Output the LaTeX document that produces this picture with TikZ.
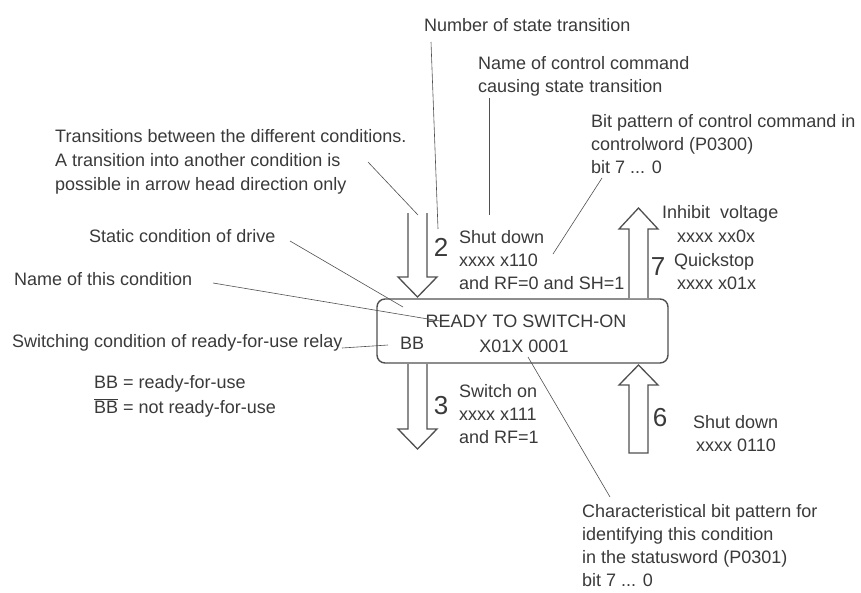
\documentclass[tikz,border=0pt]{standalone}
\usepackage{fontspec}
\setmainfont{Liberation Sans}
\definecolor{txt}{HTML}{3A3A3A}
\definecolor{ln}{HTML}{505050}
\newcommand{\mylines}[1]{\begin{tabular}[t]{@{}l@{}}#1\end{tabular}}
\begin{document}
\begin{tikzpicture}[x=1pt,y=-1pt,
  lbl/.style={anchor=base west,inner sep=0pt,text=txt,font=\fontsize{18}{23}\selectfont},
  num/.style={anchor=center,inner sep=0pt,text=txt,font=\fontsize{26}{30}\selectfont},
  lead/.style={draw=ln,line width=0.6pt},
  blk/.style={draw=ln,line width=1.3pt,line join=miter,fill=white},
  statebox/.style={draw=ln,line width=1.4pt,rounded corners=8pt}]
\useasboundingbox[fill=white] (0,0) rectangle (861,592);

% state box
\draw[statebox] (377,299) rectangle (668,363);
\coordinate (boxtl) at (377,299);
\node[lbl,anchor=base] (name) at (526,327) {READY TO SWITCH-ON};
\node[lbl,anchor=base] (bits) at (524,352) {X01X 0001};
\node[lbl] (bb) at (400,349) {BB};

% block arrows
\draw[blk] (408,213) -- (408,277) -- (398,277) -- (417.5,297) -- (437,277) -- (427,277) -- (427,213);
\draw[blk] (408,364) -- (408,429) -- (398,429) -- (417.5,449) -- (437,429) -- (427,429) -- (427,364);
\draw[blk] (629,298) -- (629,229) -- (619,229) -- (638.5,208) -- (658,229) -- (648,229) -- (648,298);
\draw[blk] (629,453) -- (629,385) -- (619,385) -- (638.5,365) -- (658,385) -- (648,385) -- (648,453) -- cycle;

% transition numbers
\node[num] (n2) at (441,247) {2};
\node[num] (n7) at (658,267) {7};
\node[num] (n3) at (441,406) {3};
\node[num] (n6) at (660,418) {6};

% transition texts
\node[lbl] (t2) at (459,243) {\mylines{Shut down\\xxxx x110\\and RF=0 and SH=1}};
\node[lbl] (t3) at (459,397) {\mylines{Switch on\\xxxx x111\\and RF=1}};
\node[lbl] (t7a) at (662,218) {Inhibit\ \ voltage};
\node[lbl] (t7b) at (677,242) {xxxx xx0x};
\node[lbl] (t7c) at (674,266) {Quickstop};
\node[lbl] (t7d) at (677,289) {xxxx x01x};
\node[lbl] (t6a) at (693,428) {Shut down};
\node[lbl] (t6b) at (696,451) {xxxx 0110};

% explanation texts
\node[lbl] (ex1) at (424,31) {Number of state transition};
\node[lbl] (ex2) at (478,69) {\mylines{Name of control command\\causing state transition}};
\node[lbl] (ex3) at (591,127) {\mylines{Bit pattern of control command in\\controlword (P0300)\\bit 7 ... 0}};
\node[lbl] (ex4) at (55,142) {\mylines{Transitions between the different conditions.\\[1pt]A transition into another condition is\\[1pt]possible in arrow head direction only}};
\node[lbl] (ex5) at (89,242) {Static condition of drive};
\node[lbl] (ex6) at (14,285) {Name of this condition};
\node[lbl] (ex7) at (12,347) {Switching condition of ready-for-use relay};
\node[lbl] (ex8) at (94,388) {\mylines{BB = ready-for-use\\[2pt]$\overline{\mbox{BB}}$ = not ready-for-use}};
\node[lbl] (ex9) at (582,517) {\mylines{Characteristical bit pattern for\\identifying this condition\\in the statusword (P0301)\\bit 7 ... 0}};

% leader lines
\coordinate (l1a) at (431,42);  \coordinate (l1b) at (438,229);
\coordinate (l2a) at (489,98);  \coordinate (l2b) at (489,215);
\coordinate (l3a) at (602,178); \coordinate (l3b) at (553,254);
\coordinate (l4a) at (368,162); \coordinate (l4b) at (418,215);
\coordinate (l5a) at (290,241); \coordinate (l5b) at (403,307);
\coordinate (l6a) at (213,283); \coordinate (l6b) at (440,321);
\coordinate (l7a) at (342,348); \coordinate (l7b) at (388,345);
\coordinate (l8a) at (528,357); \coordinate (l8b) at (610,497);
\draw[lead] (l1a) -- (l1b);
\draw[lead] (l2a) -- (l2b);
\draw[lead] (l3a) -- (l3b);
\draw[lead] (l4a) -- (l4b);
\draw[lead] (l5a) -- (l5b);
\draw[lead] (l6a) -- (l6b);
\draw[lead] (l7a) -- (l7b);
\draw[lead] (l8a) -- (l8b);
\end{tikzpicture}
\end{document}
